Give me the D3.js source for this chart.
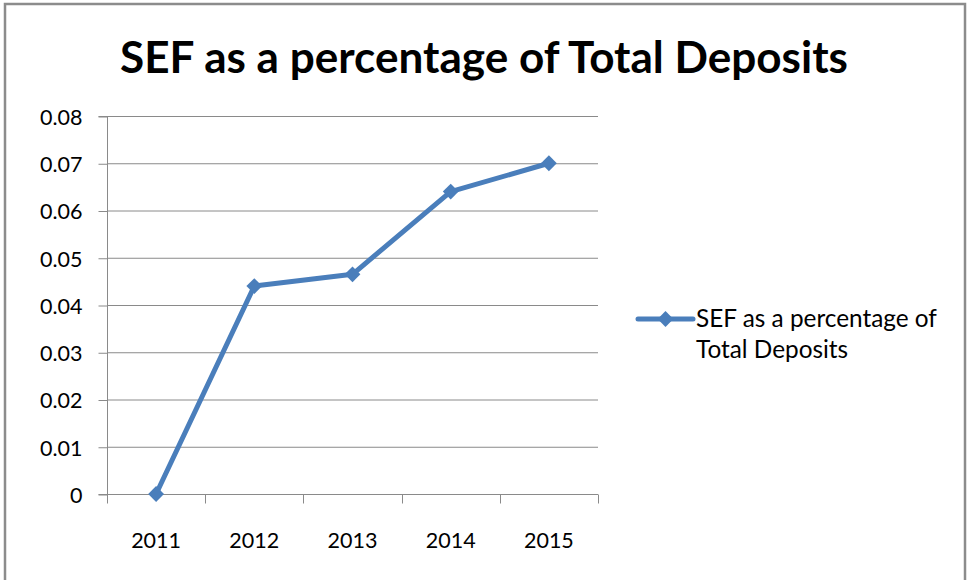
<!DOCTYPE html>
<html>
<head>
<meta charset="utf-8">
<title>SEF as a percentage of Total Deposits</title>
<style>
  body { margin: 0; background: #fff; }
  svg text { font-family: Lato, "Open Sans", sans-serif; fill: #000; }
</style>
<script src="https://cdnjs.cloudflare.com/ajax/libs/d3/7.8.5/d3.min.js"></script>
</head>
<body>
<svg id="chart" width="971" height="580"></svg>
<script>
var years = ["2011", "2012", "2013", "2014", "2015"];
var sefShare = [0, 0.044, 0.0465, 0.064, 0.07];
var yTicks = [0, 0.01, 0.02, 0.03, 0.04, 0.05, 0.06, 0.07, 0.08];
var titleText = "SEF as a percentage of Total Deposits";
var legendLines = ["SEF as a percentage of", "Total Deposits"];

var svg = d3.select("#chart");
var blue = "#4a7ebb", grid = "#8a8a8a";

// outer frame
svg.append("rect")
  .attr("x", 5).attr("y", 4).attr("width", 960).attr("height", 590)
  .attr("fill", "none").attr("stroke", "#8c8c8c").attr("stroke-width", 2.5);

var plot = { left: 107, right: 598, top: 116, bottom: 494 };

var x = d3.scaleBand().domain(years).range([plot.left, plot.right]);
var y = d3.scaleLinear().domain([0, 0.08]).range([plot.bottom, plot.top]);

// title, fitted to the reference width
var title = svg.append("text")
  .attr("x", 484).attr("y", 73)
  .attr("text-anchor", "middle")
  .style("font-weight", "bold")
  .style("font-size", "40px")
  .text(titleText);
var tw = title.node().getComputedTextLength();
title.style("font-size", (40 * 728 / tw) + "px");

// gridlines
svg.append("g").selectAll("line").data(yTicks.filter(function(d){ return d > 0; }))
  .join("line")
  .attr("x1", plot.left).attr("x2", plot.right)
  .attr("y1", function(d){ return y(d) + 0.5; }).attr("y2", function(d){ return y(d) + 0.5; })
  .attr("stroke", grid).attr("stroke-width", 1);

// y axis
var yAxis = svg.append("g")
  .attr("transform", "translate(" + (plot.left + 0.5) + ",0.5)")
  .call(d3.axisLeft(y).tickValues(yTicks).tickSize(9).tickPadding(16)
    .tickFormat(function(d){ return d === 0 ? "0" : d3.format(".2f")(d); }));
yAxis.select(".domain").attr("stroke", grid).attr("d", "M-9," + plot.top + "H0V" + plot.bottom + "H-9");
yAxis.selectAll(".tick line").attr("stroke", grid);
yAxis.selectAll("text").style("font-size", "21.5px").attr("dy", "0.36em");

// x axis
var xAxis = svg.append("g")
  .attr("transform", "translate(0," + (plot.bottom + 0.5) + ")");
xAxis.append("line")
  .attr("x1", plot.left).attr("x2", plot.right)
  .attr("stroke", grid);
var edges = years.map(function(d){ return x(d); }).concat([plot.right]);
xAxis.selectAll("line.tk").data(edges).join("line").attr("class", "tk")
  .attr("x1", function(d){ return Math.round(d) + 0.5; })
  .attr("x2", function(d){ return Math.round(d) + 0.5; })
  .attr("y1", 0).attr("y2", 9)
  .attr("stroke", grid);
xAxis.selectAll("text").data(years).join("text")
  .attr("x", function(d){ return x(d) + x.bandwidth() / 2; })
  .attr("y", 53)
  .attr("text-anchor", "middle")
  .style("font-size", "21.5px")
  .text(function(d){ return d; });

// line series
var pts = years.map(function(d, i){ return [x(d) + x.bandwidth() / 2, y(sefShare[i])]; });
svg.append("path")
  .attr("d", d3.line()(pts))
  .attr("fill", "none").attr("stroke", blue)
  .attr("stroke-width", 5).attr("stroke-linejoin", "round").attr("stroke-linecap", "round");

svg.append("g").selectAll("path").data(pts).join("path")
  .attr("transform", function(d){ return "translate(" + d[0] + "," + d[1] + ") rotate(45)"; })
  .attr("d", d3.symbol().type(d3.symbolSquare).size(125))
  .attr("fill", blue);

// legend
var lg = svg.append("g");
lg.append("line")
  .attr("x1", 638).attr("x2", 693).attr("y1", 319).attr("y2", 319)
  .attr("stroke", blue).attr("stroke-width", 5).attr("stroke-linecap", "round");
lg.append("path")
  .attr("transform", "translate(665.5,319) rotate(45)")
  .attr("d", d3.symbol().type(d3.symbolSquare).size(125))
  .attr("fill", blue);
var lt = lg.selectAll("text").data(legendLines).join("text")
  .attr("x", 696)
  .attr("y", function(d, i){ return 327 + i * 31; })
  .style("font-size", "22px")
  .text(function(d){ return d; });
// match legend width to the reference (first line spans ~241px)
var lw = lt.nodes()[0].getComputedTextLength();
lt.style("font-size", (22 * 241 / lw) + "px");
</script>
</body>
</html>
